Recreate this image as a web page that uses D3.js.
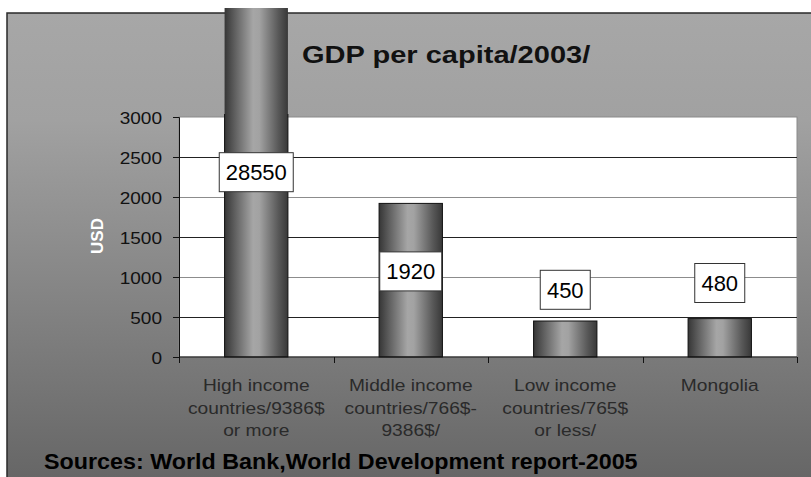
<!DOCTYPE html>
<html>
<head>
<meta charset="utf-8">
<script src="https://cdn.jsdelivr.net/npm/d3@7"></script>
<style>
  body { margin: 0; background: #fff; }
  text { font-family: "Liberation Sans", Arial, sans-serif; }
</style>
</head>
<body>
<div id="chart"></div>
<script>
const categories = ["High income countries/9386$ or more", "Middle income countries/766$-9386$/", "Low income countries/765$ or less/", "Mongolia"];
const catLines = [["High income", "countries/9386$", "or more"], ["Middle income", "countries/766$-", "9386$/"], ["Low income", "countries/765$", "or less/"], ["Mongolia"]];
const gdp = [28550, 1920, 450, 480];
const yTicks = [0, 500, 1000, 1500, 2000, 2500, 3000];
// where the data label boxes sit, in USD
const labelAt = [2310, 1070, 840, 925];

const width = 811, height = 477;
const plot = { left: 179, right: 797, top: 117, bottom: 357 };

const svg = d3.select("#chart").append("svg")
    .attr("width", width)
    .attr("height", height);

const defs = svg.append("defs");

const bg = defs.append("linearGradient").attr("id", "bg").attr("x1", 0).attr("y1", 0).attr("x2", 0).attr("y2", 1);
bg.append("stop").attr("offset", 0).attr("stop-color", "#a7a7a7");
bg.append("stop").attr("offset", 0.22).attr("stop-color", "#a1a1a1");
bg.append("stop").attr("offset", 1).attr("stop-color", "#626262");

const cyl = defs.append("linearGradient").attr("id", "cyl").attr("x1", 0).attr("y1", 0).attr("x2", 1).attr("y2", 0);
[[0, "#363636"], [0.15, "#5c5c5c"], [0.45, "#a6a6a6"], [0.55, "#a2a2a2"], [0.85, "#585858"], [1, "#383838"]]
    .forEach(s => cyl.append("stop").attr("offset", s[0]).attr("stop-color", s[1]));

defs.append("clipPath").attr("id", "barClip")
    .append("rect").attr("x", 0).attr("y", 8).attr("width", width).attr("height", height);
defs.append("clipPath").attr("id", "plotClip")
    .append("rect").attr("x", 0).attr("y", plot.top - 3).attr("width", width).attr("height", height);

// chart area background
svg.append("rect")
    .attr("x", 7).attr("y", 13)
    .attr("width", 830).attr("height", 490)
    .attr("fill", "url(#bg)")
    .attr("stroke", "#2a2a2a")
    .attr("stroke-width", 1.5);

const x = d3.scaleBand()
    .domain(categories)
    .range([plot.left, plot.right])
    .paddingInner(0.59)
    .paddingOuter(0.295);

const y = d3.scaleLinear()
    .domain([0, 3000])
    .range([plot.bottom, plot.top]);

// plot area
svg.append("rect")
    .attr("x", plot.left).attr("y", plot.top)
    .attr("width", plot.right - plot.left).attr("height", plot.bottom - plot.top)
    .attr("fill", "#fff")
    .attr("stroke", "#8a8a8a");

// gridlines
svg.append("g").selectAll("line")
    .data(yTicks.filter(t => t > 0 && t < 3000))
    .enter().append("line")
    .attr("x1", plot.left).attr("x2", plot.right)
    .attr("y1", d => Math.round(y(d)) + 0.5)
    .attr("y2", d => Math.round(y(d)) + 0.5)
    .attr("stroke", d => (d / 500) % 2 ? "#222" : "#8c8c8c");

// bars
const bars = svg.append("g");
bars.selectAll("rect.bar")
    .data(gdp)
    .enter().append("rect")
    .attr("class", "bar")
    .attr("clip-path", "url(#barClip)")
    .attr("x", (d, i) => x(categories[i]))
    .attr("y", d => Math.max(y(d), -50))
    .attr("width", x.bandwidth())
    .attr("height", d => plot.bottom - Math.max(y(d), -50))
    .attr("fill", "url(#cyl)");

bars.selectAll("rect.outline")
    .data(gdp)
    .enter().append("rect")
    .attr("class", "outline")
    .attr("clip-path", "url(#plotClip)")
    .attr("x", (d, i) => x(categories[i]))
    .attr("y", d => Math.max(y(d), -50))
    .attr("width", x.bandwidth())
    .attr("height", d => plot.bottom - Math.max(y(d), -50))
    .attr("fill", "none")
    .attr("stroke", "#111")
    .attr("stroke-width", 1);

// y axis
const yAxis = svg.append("g")
    .attr("transform", `translate(${plot.left},0)`)
    .call(d3.axisLeft(y).tickValues(yTicks).tickFormat(d3.format("d")).tickSize(6).tickPadding(10));
yAxis.select(".domain").attr("stroke", "#111");
yAxis.selectAll(".tick line").attr("stroke", "#111");
yAxis.selectAll(".tick text")
    .attr("font-size", 17)
    .attr("fill", "#111")
    .attr("font-family", "Liberation Sans, Arial, sans-serif")
    .attr("transform", "translate(-17,0) scale(1.12,1)")
    .attr("x", 0)
    .attr("dy", "0.36em");

// x axis line with ticks at category boundaries
const xg = svg.append("g");
xg.append("line")
    .attr("x1", plot.left).attr("x2", plot.right)
    .attr("y1", plot.bottom).attr("y2", plot.bottom)
    .attr("stroke", "#111");
const bounds = categories.map(c => x(c) - (x.step() - x.bandwidth()) / 2);
bounds.push(plot.right);
xg.selectAll("line.tk")
    .data(bounds)
    .enter().append("line")
    .attr("class", "tk")
    .attr("x1", d => Math.round(d) + 0.5).attr("x2", d => Math.round(d) + 0.5)
    .attr("y1", plot.bottom).attr("y2", plot.bottom + 6)
    .attr("stroke", "#111");

// category labels
catLines.forEach((lines, i) => {
    const cx = x(categories[i]) + x.bandwidth() / 2;
    lines.forEach((ln, j) => {
        svg.append("text")
            .attr("transform", `translate(${cx},${391 + j * 22.5}) scale(1.13,1)`)
            .attr("text-anchor", "middle")
            .attr("font-size", 17)
            .attr("fill", "#2a2a2a")
            .text(ln);
    });
});

// data labels
const lab = svg.append("g").selectAll("g")
    .data(gdp)
    .enter().append("g")
    .attr("transform", (d, i) => `translate(${x(categories[i]) + x.bandwidth() / 2},${y(labelAt[i])})`);
lab.append("text")
    .attr("text-anchor", "middle")
    .attr("dy", "0.36em")
    .attr("font-size", 22)
    .attr("fill", "#000")
    .text(d => d);
lab.each(function() {
    const g = d3.select(this);
    const bb = g.select("text").node().getBBox();
    g.insert("rect", "text")
        .attr("x", Math.round(bb.x - 6.5))
        .attr("y", -19.5)
        .attr("width", Math.round(bb.width + 13))
        .attr("height", 39)
        .attr("fill", "#fff")
        .attr("stroke", "#333");
});

// title
svg.append("text")
    .attr("transform", "translate(302,63) scale(1.21,1)")
    .attr("font-size", 24)
    .attr("font-weight", "bold")
    .attr("fill", "#111")
    .text("GDP per capita/2003/");

// y axis title
svg.append("text")
    .attr("transform", "translate(103,236) rotate(-90)")
    .attr("text-anchor", "middle")
    .attr("font-size", 17)
    .attr("font-weight", "bold")
    .attr("fill", "#fff")
    .text("USD");

// source note
svg.append("text")
    .attr("transform", "translate(44,469) scale(1.06,1)")
    .attr("font-size", 22)
    .attr("font-weight", "bold")
    .attr("fill", "#000")
    .text("Sources: World Bank,World Development report-2005");
</script>
</body>
</html>
